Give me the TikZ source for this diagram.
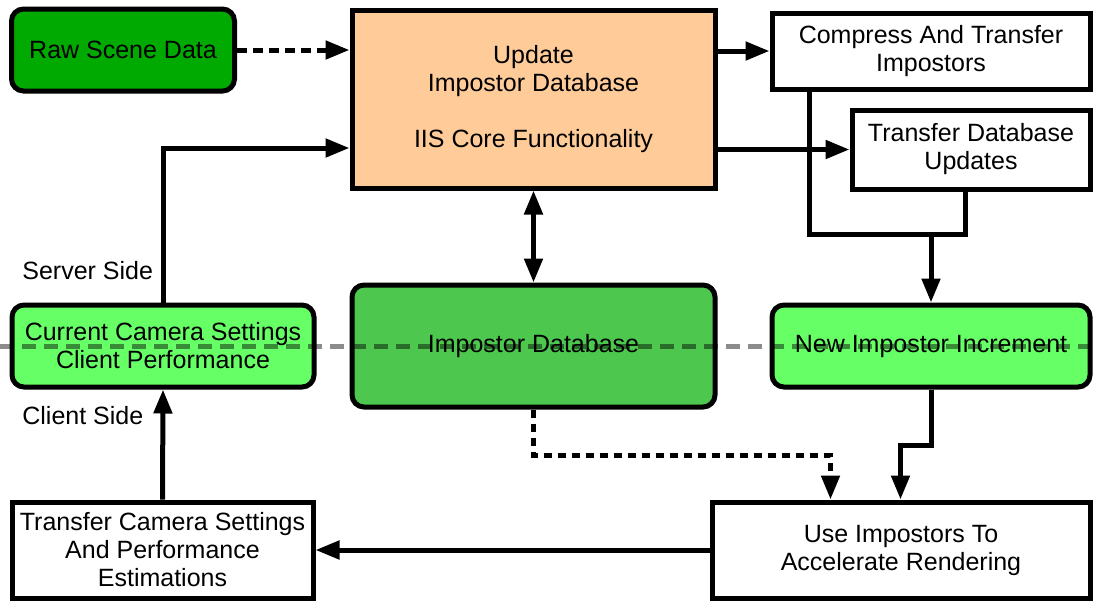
\documentclass[tikz,border=0pt]{standalone}
\usepackage{fontspec}
\setmainfont{Liberation Sans}
\usetikzlibrary{arrows.meta,calc}

\definecolor{rawgreen}{RGB}{0,170,0}
\definecolor{dbgreen}{RGB}{77,199,77}
\definecolor{incgreen}{RGB}{102,255,102}
\definecolor{peach}{RGB}{255,204,153}

\tikzset{
  block/.style={draw, line width=2.5pt, align=center, inner sep=2pt,
    font=\fontsize{12.5}{14}\selectfont},
  roundblock/.style={block, rounded corners=6pt},
  flow/.style={line width=2.5pt, ->},
  sidelabel/.style={anchor=west, inner sep=0pt, font=\fontsize{12.5}{14}\selectfont},
}

\begin{document}
\begin{tikzpicture}[x=0.5pt,y=-0.5pt,>={Triangle[length=12pt,width=9pt]}]
  \useasboundingbox (0,0) rectangle (1093,601);

  % server side
  \node[roundblock, fill=rawgreen, minimum width=111.5pt, minimum height=41pt]
    (raw) at (123,50) {Raw Scene Data};
  \node[block, fill=peach, minimum width=181.5pt, minimum height=89pt]
    (update) at (533.5,99) {Update\\Impostor Database\\[14pt]IIS Core Functionality};
  \node[block, minimum width=159pt, minimum height=38pt]
    (compress) at (931,51) {Compress And Transfer\\Impostors};
  \node[block, minimum width=119pt, minimum height=39.5pt]
    (transdb) at (971,149.5) {Transfer Database\\Updates};

  % shared row
  \node[roundblock, fill=incgreen, minimum width=151pt, minimum height=41pt]
    (camera) at (163,346) {Current Camera Settings\\Client Performance};
  \node[roundblock, fill=dbgreen, minimum width=181.5pt, minimum height=61pt]
    (impdb) at (533.5,346) {Impostor Database};
  \node[roundblock, fill=incgreen, minimum width=159pt, minimum height=41pt]
    (newinc) at (931,346) {New Impostor Increment};

  % client side
  \node[block, minimum width=150.5pt, minimum height=48pt]
    (transcam) at (162.5,550) {Transfer Camera Settings\\And Performance\\Estimations};
  \node[block, minimum width=189pt, minimum height=48pt]
    (use) at (901,550) {Use Impostors To\\Accelerate Rendering};

  \node[sidelabel] (server) at (22,271) {Server Side};
  \node[sidelabel] (client) at (22,416) {Client Side};

  % connectors
  \draw[flow, dash pattern=on 5pt off 3pt] (raw.east) -- (raw.east -| update.west);
  \draw[flow] (camera.north) |- ([yshift=-24.5pt]update.west);
  \draw[flow] (update.east |- compress.west) -- (compress.west);
  \draw[flow] (update.east |- transdb.west) -- (transdb.west);
  \draw[line width=2.5pt, <->] (update.south) -- (impdb.north);

  \coordinate (merge) at ($(newinc.north)+(0,-68)$);
  \draw[line width=2.5pt] ([xshift=20pt]compress.south west) |- (merge)
    -| ([xshift=-3pt]transdb.south);
  \draw[flow] (merge) -- (newinc.north);

  \draw[flow, dash pattern=on 4pt off 3pt] (impdb.south) -- ++(0,46)
    -| ([xshift=60.5pt]use.north west);
  \draw[flow] (newinc.south) -- ++(0,56) -| ([xshift=95.5pt]use.north west);
  \draw[flow] (use.west) -- (transcam.east);
  \draw[flow] (transcam.north) -- (camera.south);

  % server/client boundary
  \draw[black, opacity=0.45, line width=2.5pt, dash pattern=on 7pt off 4pt]
    (0,346) -- (1093,346);
\end{tikzpicture}
\end{document}
